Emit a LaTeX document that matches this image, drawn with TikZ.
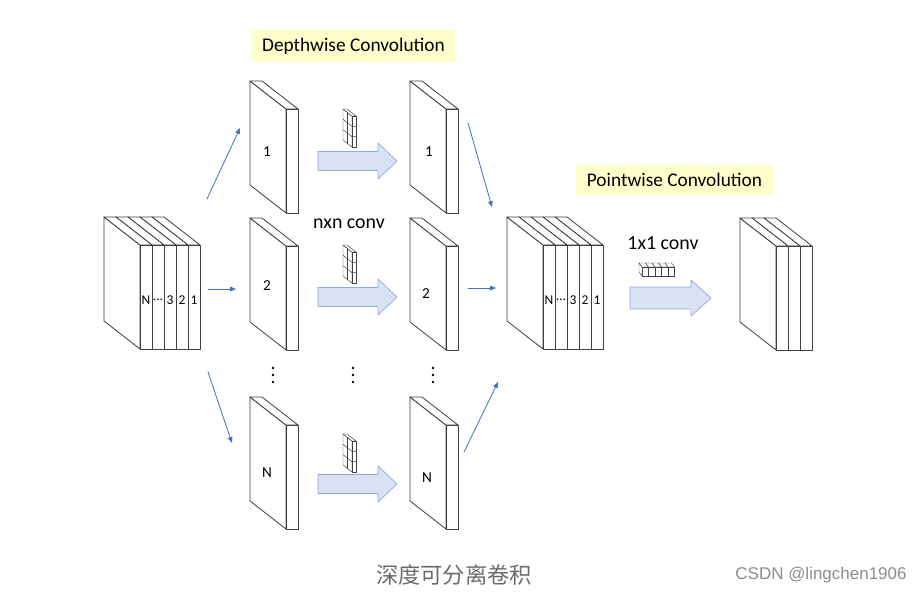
\documentclass[tikz,border=0pt]{standalone}
\usepackage{fontspec}
\setmainfont{Carlito}
\newfontfamily\cjk{Noto Sans CJK SC}
\newfontfamily\wmfont{Liberation Sans}
\usetikzlibrary{arrows.meta}

\definecolor{slabgray}{RGB}{64,64,64}
\definecolor{flowblue}{RGB}{68,114,196}
\definecolor{arrowfill}{RGB}{218,227,243}
\definecolor{arrowedge}{RGB}{143,170,220}
\definecolor{notebg}{RGB}{255,255,204}

\begin{document}
\begin{tikzpicture}[x=0.03cm, y=-0.03cm, line cap=round, line join=round,
    >={Triangle[length=5pt, width=4pt]},
    outline/.style={draw=slabgray, line width=0.7pt},
    fineline/.style={draw=slabgray, line width=0.4pt},
    flow/.style={->, draw=flowblue, line width=0.7pt},
    block/.style={fill=arrowfill, draw=arrowedge, line width=0.6pt},
    note/.style={fill=notebg, inner sep=0pt, font=\fontsize{16.5}{18}\selectfont},
    conv/.style={font=\fontsize{17}{19}\selectfont},
    tag/.style={font=\fontsize{13}{14}\selectfont, inner sep=0pt},
    chan/.style={font=\fontsize{11.5}{12}\selectfont, inner sep=0pt},
    slab/.pic={
        \filldraw[outline, fill=white] (0,0) -- (36,28) -- (36,132) -- (0,104) -- cycle;
        \filldraw[outline, fill=white] (0,0) -- (12,0) -- (48,28) -- (36,28) -- cycle;
        \filldraw[outline, fill=white] (36,28) rectangle (48,132);
    },
    kernel/.pic={
        \filldraw[fineline, fill=white] (0,0) -- (9,7) -- (9,38) -- (0,31) -- cycle;
        \filldraw[fineline, fill=white] (0,0) -- (4,0) -- (13,7) -- (9,7) -- cycle;
        \filldraw[fineline, fill=white] (9,7) rectangle (13,38);
        \foreach \i in {1,2}
            \draw[fineline] (0,31*\i/3) -- (9,7+31*\i/3) -- (13,7+31*\i/3);
        \draw[fineline] (4.5,3.5) -- (4.5,34.5);
    }
]

    \useasboundingbox (0,0) rectangle (923,594);

    % Channel dots
    \def\chdots{...}

    % Titles
    \node[note, minimum width=203*0.03cm, minimum height=32*0.03cm] (dwtitle) at (353.5,46) {Depthwise Convolution};
    \node[note, minimum width=197*0.03cm, minimum height=30*0.03cm] (pwtitle) at (674.5,180) {Pointwise Convolution};

    % Input stack
    \foreach \k in {4,3,2,1,0}
        \pic at (104+12*\k,217) {slab};
    \foreach \t [count=\k from 0] in {N,\chdots,3,2,1}
        \node[chan] (in-\k) at (146+12*\k,300) {\t};

    % Single channels
    \foreach \x in {250,410}
        \foreach \y in {81,218,397}
            \pic at (\x,\y) {slab};
    \node[tag] (d1) at (267,152) {1};
    \node[tag] (d2) at (267,286) {2};
    \node[tag] (dN) at (267,473) {N};
    \node[tag] (e1) at (429,152) {1};
    \node[tag] (e2) at (426,294) {2};
    \node[tag] (eN) at (427,478) {N};

    % Dots
    \foreach \x in {273,353,433}
        \foreach \y in {368,375,382}
            \fill[black] (\x,\y) circle (1.4);

    % Kernels and block arrows
    \foreach \y in {109,245,434}
        \pic at (343,\y) {kernel};
    \foreach \y in {161,297,484}
        \draw[block] (318,\y-9.5) -- (378,\y-9.5) -- (378,\y-18) -- (397,\y)
            -- (378,\y+18) -- (378,\y+9.5) -- (318,\y+9.5) -- cycle;
    \node[conv] (nconv) at (349,224) {nxn conv};

    % Middle stack
    \foreach \k in {4,3,2,1,0}
        \pic at (507+12*\k,217) {slab};
    \foreach \t [count=\k from 0] in {N,\chdots,3,2,1}
        \node[chan] (mid-\k) at (549+12*\k,300) {\t};

    % Pointwise step
    \node[conv] (oconv) at (663,243) {1x1 conv};
    \foreach \k in {0,1,2,3,4} {
        \filldraw[fineline, fill=white] (642+6.5*\k,267) -- (639+6.5*\k,263) -- (645.5+6.5*\k,263) -- (648.5+6.5*\k,267) -- cycle;
        \filldraw[fineline, fill=white] (642+6.5*\k,267) rectangle (648.5+6.5*\k,276);
    }
    \filldraw[fineline, fill=white] (642,267) -- (639,263) -- (639,272) -- (642,276) -- cycle;
    \draw[block] (630,287) -- (691,287) -- (691,280) -- (711,298)
        -- (691,316) -- (691,309) -- (630,309) -- cycle;

    % Output stack
    \foreach \k in {2,1,0}
        \pic at (740+12*\k,218) {slab};

    % Flow arrows
    \coordinate (s1) at (207,199);
    \coordinate (t1) at (240,128);
    \coordinate (s2) at (208,289);
    \coordinate (t2) at (236,289);
    \coordinate (s3) at (208,372);
    \coordinate (t3) at (232,443);
    \coordinate (s4) at (468,123);
    \coordinate (t4) at (492,207);
    \coordinate (s5) at (468,288);
    \coordinate (t5) at (496,288);
    \coordinate (s6) at (464,452);
    \coordinate (t6) at (498,382);
    \foreach \i in {1,...,6}
        \draw[flow] (s\i) -- (t\i);

    % Caption
    \node[text=black!58, font=\cjk\fontsize{19}{21}\selectfont] (caption) at (454,575) {深度可分离卷积};
    \node[text=black!45, font=\wmfont\fontsize{14.5}{16}\selectfont] (mark) at (821,575) {CSDN @lingchen1906};

\end{tikzpicture}
\end{document}
